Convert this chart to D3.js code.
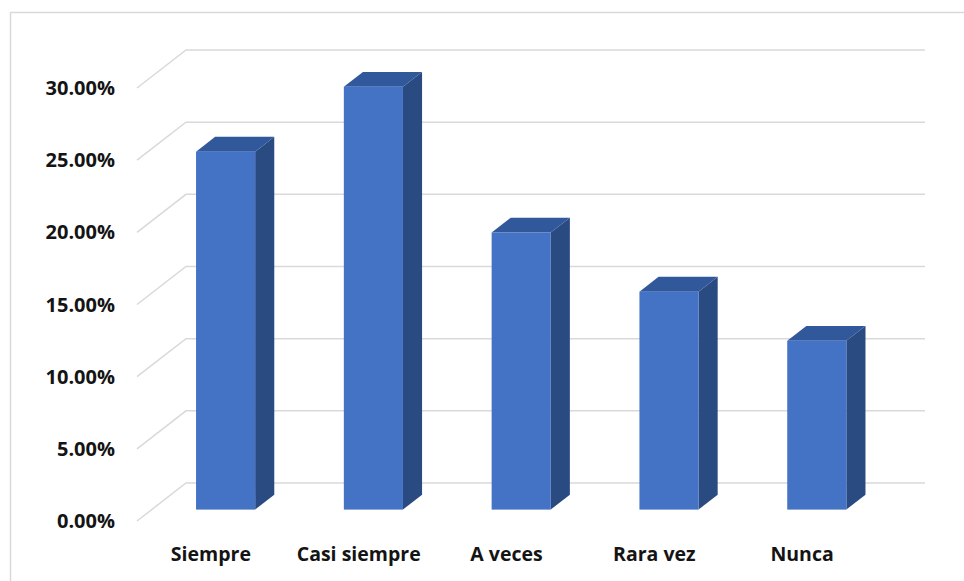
<!DOCTYPE html>
<html>
<head>
<meta charset="utf-8">
<script src="https://cdn.jsdelivr.net/npm/d3@7"></script>
<style>
  body { margin: 0; background: #fff; }
  svg text { font-family: "Open Sans", "DejaVu Sans", sans-serif; font-weight: bold; fill: #141414; }
</style>
</head>
<body>
<div class="chart"></div>
<script>
'use-strict';

const categories = ["Siempre", "Casi siempre", "A veces", "Rara vez", "Nunca"];
const values = [0.248, 0.293, 0.192, 0.151, 0.117];
const yTicks = [0, 0.05, 0.10, 0.15, 0.20, 0.25, 0.30];

(function() {
    const width = 964, height = 581;
    // floor front edge and the depth offset of the back wall
    const floorLeft = 137, floorRight = 876;
    const depthX = 49, depthY = -38;
    const barStart = 0.3, barDepth = 0.39;

    const svg = d3.select('.chart').append('svg')
        .attr('width', width).attr('height', height);

    // outer chart frame (cropped on the right and bottom)
    svg.append('rect')
        .attr('x', 10.5).attr('y', 12.5)
        .attr('width', 1000).attr('height', 1000)
        .attr('fill', 'none').attr('stroke', '#d9d9d9').attr('stroke-width', 1.5);

    const y = d3.scaleLinear().domain([0, 0.30]).range([521, 88]);
    const x = d3.scaleBand().domain(categories).range([floorLeft, floorRight]).paddingInner(0).paddingOuter(0);

    // gridlines: diagonal on the side wall then flat along the back wall
    svg.append('g').selectAll('path')
        .data(yTicks)
        .enter()
        .append('path')
            .attr('d', d => "M" + floorLeft + "," + y(d) +
                "L" + (floorLeft + depthX) + "," + (y(d) + depthY) +
                "L" + (floorRight + depthX) + "," + (y(d) + depthY))
            .attr('fill', 'none')
            .attr('stroke', '#d9d9d9')
            .attr('stroke-width', 1.5);

    // y tick labels
    svg.append('g').selectAll('text')
        .data(yTicks)
        .enter()
        .append('text')
            .attr('x', 115)
            .attr('y', d => y(d))
            .attr('dy', '0.35em')
            .attr('text-anchor', 'end')
            .style('font-size', '20px')
            .text(d => d3.format('.2%')(d));

    // 3d bars
    const barW = x.bandwidth() * 0.4;
    const ox = barStart * depthX, oy = barStart * depthY;
    const dx = barDepth * depthX, dy = barDepth * depthY;
    const bars = svg.append('g').selectAll('g')
        .data(categories.map((c, i) => ({cat: c, v: values[i]})))
        .enter()
        .append('g');

    const fx = d => x(d.cat) + x.bandwidth() / 2 - barW / 2 + ox;

    bars.append('path')   // side
        .attr('d', d => {
            const x1 = fx(d) + barW, yt = y(d.v) + oy, yb = y(0) + oy;
            return "M" + x1 + "," + yt + "L" + (x1 + dx) + "," + (yt + dy) +
                "L" + (x1 + dx) + "," + (yb + dy) + "L" + x1 + "," + yb + "Z";
        })
        .attr('fill', '#2a4a82');

    bars.append('path')   // top
        .attr('d', d => {
            const x0 = fx(d), yt = y(d.v) + oy;
            return "M" + x0 + "," + yt + "L" + (x0 + dx) + "," + (yt + dy) +
                "L" + (x0 + barW + dx) + "," + (yt + dy) + "L" + (x0 + barW) + "," + yt + "Z";
        })
        .attr('fill', '#32589c');

    bars.append('rect')   // front
        .attr('x', d => fx(d))
        .attr('y', d => y(d.v) + oy)
        .attr('width', barW)
        .attr('height', d => y(0) - y(d.v))
        .attr('fill', '#4472c4');

    // category labels
    svg.append('g').selectAll('text')
        .data(categories)
        .enter()
        .append('text')
            .attr('x', d => x(d) + x.bandwidth() / 2)
            .attr('y', 561)
            .attr('text-anchor', 'middle')
            .style('font-size', '19.5px')
            .text(d => d);
})();
</script>
</body>
</html>
